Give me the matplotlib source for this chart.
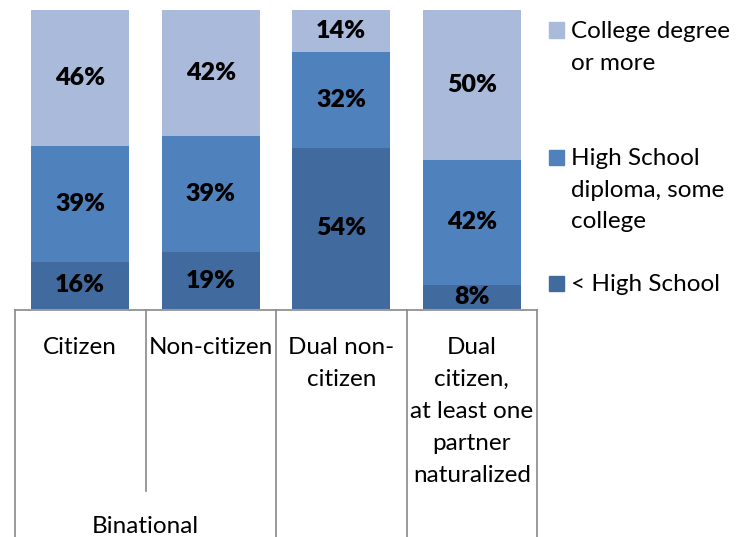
import matplotlib.pyplot as plt
import matplotlib.transforms as mtransforms
from matplotlib.patches import Rectangle
import numpy as np

plt.rcParams['font.family'] = ['Lato', 'DejaVu Sans']

categories = ['Citizen', 'Non-citizen', 'Dual non-\ncitizen',
              'Dual\ncitizen,\nat least one\npartner\nnaturalized']
group_label = 'Binational'
series_names = ['< High School', 'High School\ndiploma, some\ncollege', 'College degree\nor more']
less_hs = [16, 19, 54, 8]
hs_some_college = [39, 39, 32, 42]
college = [46, 42, 14, 50]
colors = ['#416A9F', '#4F81BD', '#A9BADA']

W, H = 745, 537
fig = plt.figure(figsize=(W / 100, H / 100), dpi=100)
# axes placed in pixels: x 15..537, y 10..309
ax = fig.add_axes([15 / W, (H - 309) / H, 522 / W, 299 / H])

data = np.array([less_hs, hs_some_college, college], dtype=float)
shares = data / data.sum(axis=0) * 100
x = np.arange(len(categories))
bottom = np.zeros(len(categories))
bars = []
for vals, raw, col in zip(shares, data, colors):
    b = ax.bar(x, vals, width=0.75, bottom=bottom, color=col, linewidth=0)
    bars.append(b)
    for xi, v, bt, r in zip(x, vals, bottom, raw):
        ax.text(xi, bt + v / 2, f'{int(r)}%', ha='center', va='center',
                fontsize=18, fontweight='heavy', color='black')
    bottom += vals

ax.set_xlim(-0.5, len(categories) - 0.5)
ax.set_ylim(0, 100)
ax.axis('off')

# category table below the plot
trans = mtransforms.blended_transform_factory(ax.transData, fig.transFigure)
def fy(py):
    return (H - py) / H

grid = '#898989'
ax.plot([-0.5, 3.5], [fy(309.5)] * 2, transform=trans, color=grid, lw=1.2, clip_on=False)
for xb in [-0.5, 1.5, 2.5, 3.5]:
    ax.plot([xb, xb], [fy(309.5), 0], transform=trans, color=grid, lw=1.2, clip_on=False)
ax.plot([0.5, 0.5], [fy(309.5), fy(491)], transform=trans, color=grid, lw=1.2, clip_on=False)

fs = 17.5
for xi, lab in zip(x, categories):
    fig.text(xi, fy(337), lab, transform=trans, ha='center', va='top',
             fontsize=fs, linespacing=1.65)
fig.text(0.5, fy(516), group_label, transform=trans, ha='center', va='top', fontsize=fs)

# legend
leg_y = [283, 157, 30]
for b, name, yy in zip(bars, series_names, leg_y):
    fig.patches.append(Rectangle((549 / W, fy(yy + 7.5)), 15 / W, 15 / H,
                                 transform=fig.transFigure,
                                 color=b.patches[0].get_facecolor(), figure=fig))
    fig.text(571 / W, fy(yy - 9), name, ha='left', va='top',
             fontsize=fs, linespacing=1.62)

fig.savefig('out.png', dpi=100)
